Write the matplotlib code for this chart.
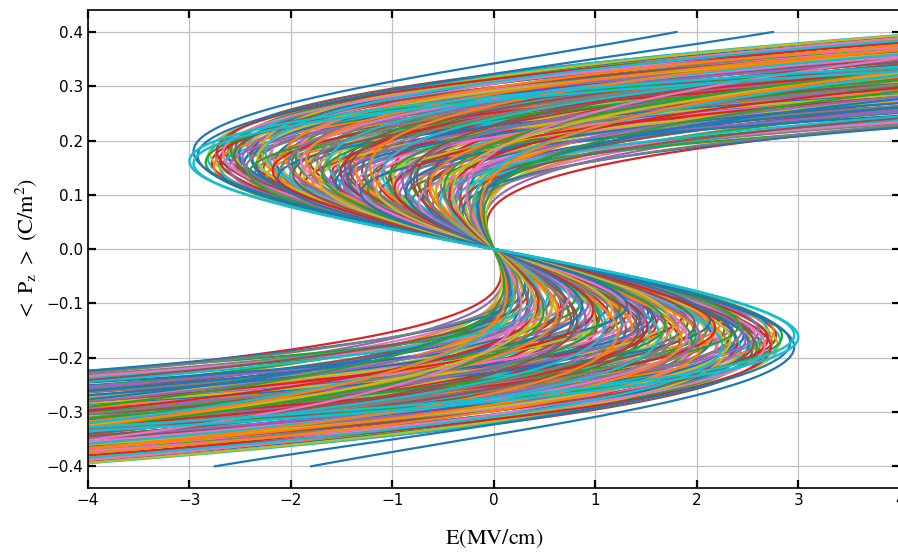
import numpy as np
import matplotlib
matplotlib.use("Agg")
import matplotlib.pyplot as plt

plt.rcParams["mathtext.fontset"] = "stix"

# turning point of each P-E branch: coercive field (MV/cm) and polarization (C/m^2)
e_turn = [-0.18, -0.12, -0.15, -0.07, -0.09, -0.14, -0.17, -0.11, -0.08,
          -2.82, -2.55, -2.71, -2.62, -2.78, -2.50, -2.66, -2.58, -2.74, -2.53, -2.69,
          -2.46, -2.31, -2.12, -2.40, -2.04, -2.27, -2.19, -2.36, -2.08, -2.43, -2.15, -2.24,
          -1.97, -1.83, -1.62, -1.91, -1.55, -1.74, -1.88, -1.68, -1.52, -1.79, -1.95, -1.60,
          -1.46, -1.33, -1.18, -1.41, -1.05, -1.27, -1.12, -1.38, -1.21, -1.02, -1.48, -1.30,
          -0.97, -0.84, -0.62, -0.91, -0.55, -0.73, -0.88, -0.66, -0.52, -0.79, -0.95, -0.60,
          -0.48, -0.37, -0.26, -0.43, -0.22, -0.33, -0.45, -0.29, -0.40, -0.24,
          -2.80, -2.64, -2.51, -2.76, -2.59, -2.70,
          -2.48, -2.34, -2.21, -2.10, -2.29, -2.01, -2.38, -2.17,
          -1.99, -1.86, -1.71, -1.57, -1.93, -1.65, -1.77, -1.53,
          -1.44, -1.36, -1.24, -1.15, -1.08, -1.47, -1.19, -1.01,
          -0.99, -0.86, -0.70, -0.57, -0.81, -0.65, -0.93, -0.76,
          -0.47, -0.35, -0.28, -0.42, -0.31, -0.21,
          -2.84, -2.73, -2.61, -2.56, -2.67,
          -2.44, -2.33, -2.25, -2.13, -2.06, -2.41, -2.18, -2.02,
          -1.98, -1.90, -1.81, -1.72, -1.63, -1.56, -1.85, -1.69, -1.51,
          -1.49, -1.42, -1.35, -1.26, -1.16, -1.10, -1.31, -1.22, -1.04,
          -0.98, -0.90, -0.82, -0.74, -0.68, -0.58, -0.53, -0.87, -0.63,
          -0.49, -0.44, -0.38, -0.34, -0.27, -0.23, -0.41,
          -0.19, -0.16, -0.13, -0.10]
p_turn = [0.072, 0.060, 0.082, 0.045, 0.052, 0.066, 0.063, 0.074, 0.057,
          0.168, 0.183, 0.155, 0.176, 0.160, 0.150, 0.186, 0.163, 0.172, 0.170, 0.149,
          0.158, 0.180, 0.140, 0.172, 0.165, 0.148, 0.176, 0.137, 0.153, 0.185, 0.162, 0.133,
          0.150, 0.171, 0.125, 0.134, 0.158, 0.162, 0.142, 0.146, 0.118, 0.128, 0.168, 0.137,
          0.140, 0.112, 0.150, 0.123, 0.118, 0.135, 0.103, 0.155, 0.127, 0.137, 0.118, 0.146,
          0.120, 0.101, 0.128, 0.134, 0.090, 0.114, 0.092, 0.104, 0.118, 0.125, 0.108, 0.083,
          0.104, 0.082, 0.095, 0.112, 0.070, 0.100, 0.086, 0.078, 0.095, 0.088,
          0.178, 0.158, 0.176, 0.152, 0.181, 0.165,
          0.166, 0.155, 0.170, 0.146, 0.183, 0.136, 0.163, 0.152,
          0.158, 0.121, 0.155, 0.131, 0.176, 0.166, 0.139, 0.150,
          0.131, 0.144, 0.109, 0.131, 0.146, 0.152, 0.120, 0.106,
          0.128, 0.116, 0.097, 0.107, 0.086, 0.121, 0.100, 0.132,
          0.093, 0.107, 0.085, 0.078, 0.068, 0.080,
          0.160, 0.181, 0.150, 0.172, 0.177,
          0.150, 0.168, 0.178, 0.131, 0.172, 0.140, 0.145, 0.158,
          0.138, 0.160, 0.149, 0.126, 0.158, 0.122, 0.165, 0.138, 0.142,
          0.128, 0.148, 0.119, 0.142, 0.112, 0.139, 0.104, 0.153, 0.126,
          0.112, 0.125, 0.131, 0.088, 0.112, 0.099, 0.085, 0.105, 0.115,
          0.112, 0.099, 0.090, 0.075, 0.103, 0.064, 0.106,
          0.085, 0.070, 0.078, 0.064]

# outermost loops: turning point plus the field reached at P = 0.4
outer_e_turn = [-2.96, -2.92]
outer_p_turn = [0.180, 0.172]
outer_e_top = [1.80, 2.75]
outer_colors = ["C0", "C0"]

# widest cubic loops drawn on top
edge_e_turn = [-3.00, -2.96]
edge_p_turn = [0.162, 0.158]
edge_colors = ["C9", "C9"]

P = np.linspace(-0.4, 0.4, 500)


def cubic_branch(ec, pc):
    # E = a*P + b*P^3 with dE/dP = 0 at pc and E(pc) = ec
    a = 1.5 * ec / pc
    b = -ec / (2 * pc**3)
    return a * P + b * P**3


def quintic_branch(ec, pc, etop, ptop=0.4):
    # E = a*P + b*P^3 + c*P^5 through the turning point and (etop, ptop)
    M = np.array([[1, 3 * pc**2, 5 * pc**4],
                  [pc, pc**3, pc**5],
                  [ptop, ptop**3, ptop**5]])
    a, b, c = np.linalg.solve(M, [0, ec, etop])
    return a * P + b * P**3 + c * P**5


fig = plt.figure(figsize=(8.98, 5.53), dpi=100)
ax = fig.add_axes([0.098, 0.1175, 0.904, 0.864])

for i, (ec, pc) in enumerate(zip(e_turn, p_turn)):
    ax.plot(cubic_branch(ec, pc), P, color=f"C{i % 10}", lw=1.6)

for ec, pc, et, col in zip(outer_e_turn, outer_p_turn, outer_e_top, outer_colors):
    ax.plot(quintic_branch(ec, pc, et), P, color=col, lw=1.6)

for ec, pc, col in zip(edge_e_turn, edge_p_turn, edge_colors):
    ax.plot(cubic_branch(ec, pc), P, color=col, lw=1.8)

ax.set_xlim(-4, 4)
ax.set_ylim(-0.44, 0.44)
ax.set_xticks(np.arange(-4, 5, 1))
ax.set_yticks(np.arange(-0.4, 0.41, 0.1))
ax.grid(True, color="#c0c0c0", lw=0.9)
ax.set_axisbelow(True)
ax.tick_params(direction="in", top=True, right=True, length=6, width=1.6,
               labelsize=11)
for s in ax.spines.values():
    s.set_linewidth(1.2)

ax.set_xlabel(r"$\mathrm{E(MV/cm)}$", fontsize=16, labelpad=14)
ax.set_ylabel(r"$<\ \mathrm{P_z}\ >\ \mathrm{(C/m^2)}$", fontsize=16, labelpad=5)

fig.savefig("out.png", dpi=100)
